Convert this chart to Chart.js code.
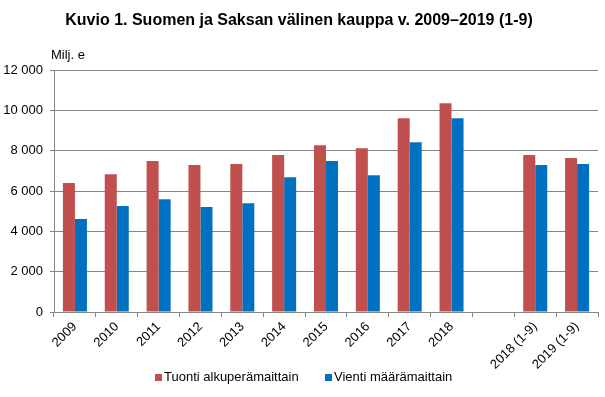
<!DOCTYPE html>
<html>
<head>
<meta charset="utf-8">
<script src="https://cdn.jsdelivr.net/npm/chart.js@4/dist/chart.umd.min.js"></script>
<style>
  html, body { margin: 0; padding: 0; background: #fff; }
  #wrap { width: 605px; height: 397px; }
</style>
</head>
<body>
<div id="wrap"><canvas id="tradeChart"></canvas></div>
<script>
const categories = ['2009', '2010', '2011', '2012', '2013', '2014', '2015', '2016', '2017', '2018', '', '2018 (1-9)', '2019 (1-9)'];
const tuonti = [6400, 6840, 7490, 7290, 7340, 7790, 8280, 8130, 9620, 10360, null, 7790, 7640];
const vienti = [4610, 5260, 5600, 5210, 5400, 6690, 7490, 6790, 8430, 9620, null, 7290, 7340];
const yTicks = [0, 2000, 4000, 6000, 8000, 10000, 12000];

const FONT = 'Arial, "Liberation Sans", sans-serif';
const GRID = '#868686';

// unit label above the y axis + legend row at the bottom
const extras = {
    id: 'extras',
    afterDraw(chart) {
        const ctx = chart.ctx;
        ctx.save();
        ctx.font = '13px ' + FONT;
        ctx.fillStyle = '#000';
        ctx.textAlign = 'left';
        ctx.textBaseline = 'middle';
        ctx.fillText('Milj. e', 51, 55);

        // legend
        const y = 377;
        const starts = [155, 325];
        chart.data.datasets.forEach((ds, i) => {
            const x = starts[i];
            ctx.fillStyle = ds.backgroundColor;
            ctx.fillRect(x, y - 3, 7, 7);
            ctx.fillStyle = '#000';
            ctx.fillText(ds.label, x + 9, y);
        });
        ctx.restore();
    }
};

function fmt(v) {
    return String(v).replace(/\B(?=(\d{3})+(?!\d))/g, ' ');
}

new Chart(document.getElementById('tradeChart'), {
    type: 'bar',
    data: {
        labels: categories,
        datasets: [
            { label: 'Tuonti alkuperämaittain', data: tuonti, backgroundColor: '#C0504D' },
            { label: 'Vienti määrämaittain', data: vienti, backgroundColor: '#0070C0' }
        ]
    },
    options: {
        responsive: true,
        maintainAspectRatio: false,
        animation: false,
        categoryPercentage: 0.574,
        barPercentage: 1,
        layout: { padding: { left: 0, right: 7, top: 0, bottom: 0 } },
        plugins: {
            title: {
                display: true,
                text: 'Kuvio 1. Suomen ja Saksan välinen kauppa v. 2009–2019 (1-9)',
                color: '#000',
                font: { family: FONT, size: 16, weight: 'bold' },
                padding: { top: 11, bottom: 40 }
            },
            legend: { display: false },
            tooltip: { enabled: false }
        },
        scales: {
            x: {
                afterFit(scale) { scale.height = 85; },
                grid: { drawOnChartArea: false, drawTicks: true, tickLength: 5, color: GRID },
                border: { color: GRID },
                ticks: {
                    color: '#000',
                    font: { family: FONT, size: 13 },
                    minRotation: 45,
                    maxRotation: 45,
                    autoSkip: false,
                    padding: 2
                }
            },
            y: {
                min: 0,
                max: 12000,
                afterFit(scale) { scale.width = 54; },
                afterBuildTicks(scale) { scale.ticks = yTicks.map(v => ({ value: v })); },
                grid: { color: GRID, tickLength: 4 },
                border: { color: GRID },
                ticks: {
                    color: '#000',
                    font: { family: FONT, size: 13 },
                    padding: 7,
                    callback: v => fmt(v)
                }
            }
        }
    },
    plugins: [extras]
});
</script>
</body>
</html>
